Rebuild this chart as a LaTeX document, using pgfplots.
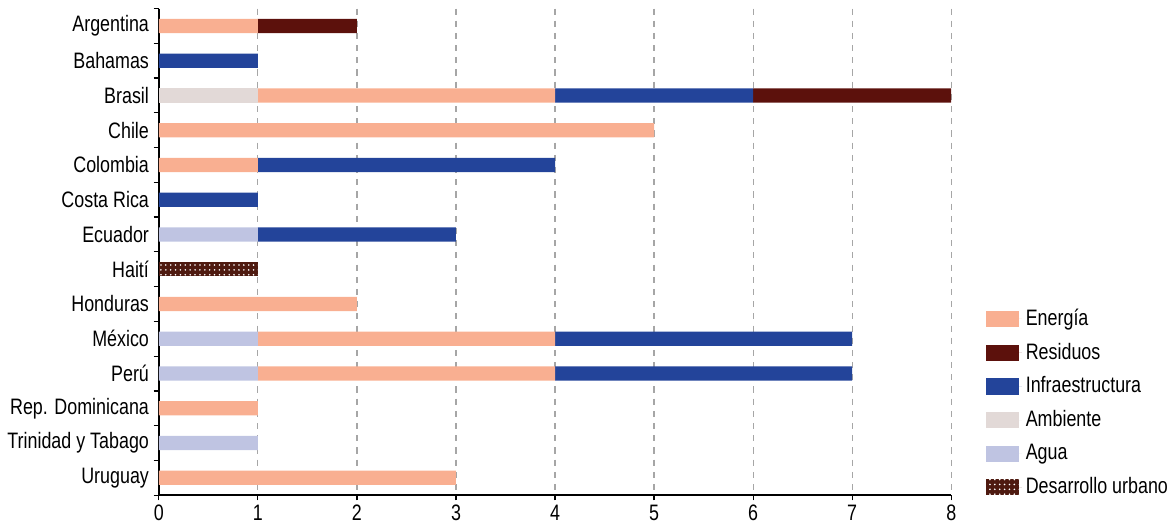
\documentclass[border=0pt]{standalone}
\usepackage{fontspec}
\setmainfont{Liberation Sans}[FakeStretch=0.80]
\usepackage{pgfplots}
\pgfplotsset{compat=1.18}
\usepackage{pgfplotstable}
\usetikzlibrary{patterns.meta}
\definecolor{cEner}{HTML}{F9AF91}
\definecolor{cRes}{HTML}{5C110C}
\definecolor{cInf}{HTML}{23449A}
\definecolor{cAmb}{HTML}{E2D9D7}
\definecolor{cAgua}{HTML}{BFC4E2}
\definecolor{cDes}{HTML}{4E1A10}
\pgfdeclarepattern{
  name=bigdots,
  parameters={},
  bottom left={\pgfpoint{-1.2pt}{-1.2pt}},
  top right={\pgfpoint{1.2pt}{1.2pt}},
  tile size={\pgfpoint{2.4pt}{2.4pt}},
  tile transformation={\pgfpoint{0pt}{0.6pt}},
  code={\pgfpathcircle{\pgfpointorigin}{0.45pt}\pgfusepath{fill}}
}
\pgfplotstableread{
idx Amb Agua Des Ener Inf Res
0 0 0 0 1 0 1
1 0 0 0 0 1 0
2 1 0 0 3 2 2
3 0 0 0 5 0 0
4 0 0 0 1 3 0
5 0 0 0 0 1 0
6 0 1 0 0 2 0
7 0 0 1 0 0 0
8 0 0 0 2 0 0
9 0 1 0 3 3 0
10 0 1 0 3 3 0
11 0 0 0 1 0 0
12 0 1 0 0 0 0
13 0 0 0 3 0 0
}\datatable
\begin{document}
\fontsize{11}{13}\selectfont
\begin{tikzpicture}
\begin{axis}[
  width=390pt, height=239.5pt, scale only axis,
  xbar stacked, bar width=7pt,
  xmin=0, xmax=8, ymin=-0.5, ymax=13.5,
  y dir=reverse,
  axis lines*=left,
  axis line style={black, line width=0.8pt},
  xtick={0,...,8},
  ytick={0,...,13},
  yticklabels={Argentina,Bahamas,Brasil,Chile,Colombia,Costa Rica,Ecuador,Haití,Honduras,México,Perú,Rep. Dominicana,Trinidad y Tabago,Uruguay},
  minor ytick={-0.5,0.5,...,13.5},
  major tick length=0pt,
  minor tick length=2.6pt,
  tick align=outside,
  xtick style={black, line width=0.6pt, /pgfplots/major tick length=2.6pt},
  ytick style={black, line width=0.6pt},
  xmajorgrids,
  grid style={gray!70, dashed, line width=0.6pt},
  /pgf/number format/assume math mode=true,
  tick label style={font=\fontsize{11}{13}\selectfont, black},
  yticklabel style={xshift=-1pt},
  xticklabel style={yshift=-1pt},
  legend style={at={(1,0)}, anchor=south west, xshift=17pt, yshift=-3pt, draw=none, fill=none,
    row sep=3.0pt, font=\fontsize{11}{13}\selectfont, inner sep=0pt},
  legend cell align=left,
  legend image code/.code={\fill[#1] (0pt,-4pt) rectangle (16pt,4pt); \path (0pt,0pt) -- (17.5pt,0pt);},
  clip=false,
]
\addplot[forget plot, fill=cAmb, draw=none] table[x=Amb, y=idx] {\datatable};
\addplot[forget plot, fill=cAgua, draw=none] table[x=Agua, y=idx] {\datatable};
\addplot[forget plot, fill=cDes, draw=none, postaction={pattern=bigdots, pattern color=white}] table[x=Des, y=idx] {\datatable};
\addplot[forget plot, fill=cEner, draw=none] table[x=Ener, y=idx] {\datatable};
\addplot[forget plot, fill=cInf, draw=none] table[x=Inf, y=idx] {\datatable};
\addplot[forget plot, fill=cRes, draw=none] table[x=Res, y=idx] {\datatable};
\addlegendimage{fill=cEner, draw=none}\addlegendentry{Energía}
\addlegendimage{fill=cRes, draw=none}\addlegendentry{Residuos}
\addlegendimage{fill=cInf, draw=none}\addlegendentry{Infraestructura}
\addlegendimage{fill=cAmb, draw=none}\addlegendentry{Ambiente}
\addlegendimage{fill=cAgua, draw=none}\addlegendentry{Agua}
\addlegendimage{fill=cDes, draw=none, postaction={pattern=bigdots, pattern color=white}}\addlegendentry{Desarrollo urbano}
\path (rel axis cs:0,1) -- ++(0pt,4.2pt);
\end{axis}
\end{tikzpicture}
\end{document}
